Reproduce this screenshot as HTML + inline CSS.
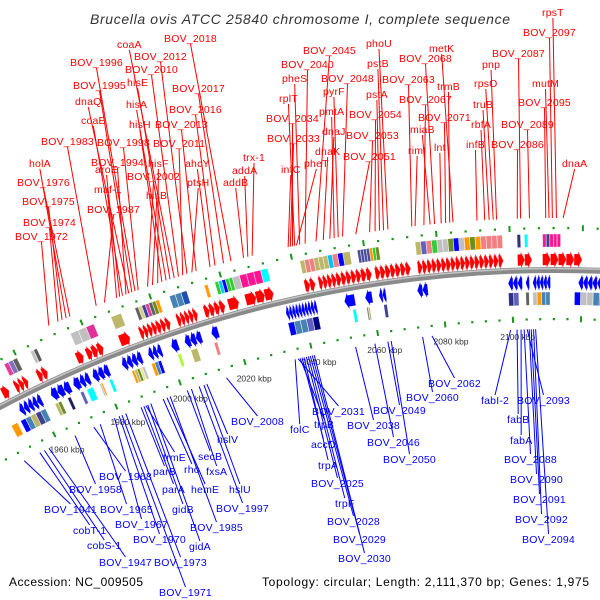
<!DOCTYPE html>
<html><head><meta charset="utf-8"><style>
html,body{margin:0;padding:0;background:#fff;}
svg{display:block;font-family:"Liberation Sans",sans-serif;}
</style></head><body>
<svg id="chart" width="600" height="600" viewBox="0 0 600 600" xmlns="http://www.w3.org/2000/svg">
<rect width="600" height="600" fill="#fff"/>
<text x="300" y="24" text-anchor="middle" font-size="14" font-style="italic" fill="#333" textLength="420" lengthAdjust="spacing">Brucella ovis ATCC 25840 chromosome I, complete sequence</text>
<text x="9" y="586" font-size="12" fill="#000" textLength="134" lengthAdjust="spacing">Accession: NC_009505</text>
<text x="262" y="586" font-size="12" fill="#000" textLength="327" lengthAdjust="spacing">Topology: circular; Length: 2,111,370 bp; Genes: 1,975</text>
<g id="gBack"></g><g id="gTicks"></g><g id="gFeat"></g><g id="gLines"></g><g id="gLabels"></g>
</svg>
<script>
// tick positions (kbp)
const tickLabels=[1960,1980,2000,2020,2040,2060,2080,2100];
// forward gene clusters: start kbp, end kbp, gene count
const fwdClusters=[[1952,1954,1],[1956,1960,3],[1963,1966,2],[1975,1977,1],[1978,1983,3],[1988,1991,1],[1994,1999,4],[1999,2003,3],[2005,2011,5],[2013,2019,4],[2020,2023,1],[2025,2028,1],[2028,2033,2],[2042,2045,2],[2046,2051,4],[2051,2058,5],[2058,2061,2],[2062,2072,7],[2074,2098,18],[2102,2106,2],[2109,2120,5]];
// reverse gene clusters
const revClusters=[[1954,1961,5],[1964,1970,3],[1971,1973,1],[1973,1976,2],[1977,1982,3],[1986,1992,4],[1994,1998,3],[2001,2003,1],[2005,2010,3],[2013,2015,1],[2035,2044,10],[2052,2055,1],[2058,2060,1],[2062,2064,2],[2073,2076,2],[2099,2103,3],[2104,2105,1],[2106,2111,5],[2119,2127,6]];
// COG boxes forward: start, end, colours
const fwdBoxes=[[1956,1960,['#e0409a','#8070c0','#606060']],[1964,1966,['#c0c0c0','#555555']],[1976,1983,['#c0c0c0','#c0c0c0','#e0309a']],[1988,1991,['#bdb76b']],[1995,1999,['#606060','#d8d080','#4040a0','#e0409a']],[1999,2002,['#606060','#6b8e23','#ff9900']],[2005,2010,['#4682b4','#4682b4','#1f4fb0']],[2015,2016,['#ff9900']],[2018,2023,['#33cc33','#00ccff','#0000ff','#33cc33','#33cc33']],[2023,2025,['#c0c0c0']],[2025,2033,['#ff1493','#ff1493','#ff1493','#00ffff']],[2042,2051,['#bdb76b','#f08080','#f08080','#bdb76b','#bdb76b','#bdb76b','#00bfff']],[2051,2054,['#f08080','#0000ff']],[2054,2056,['#bdb76b']],[2058,2063,['#4b4b9b','#4b4b9b','#4b4b9b','#4b4b9b','#ff9900','#33cc33']],[2063,2064,['#6b8e23']],[2074,2098,['#bdb76b','#6060c0','#f08080','#33cc33','#c0c0c0','#c0c0c0','#6b8e23','#0000ff','#c0c0c0','#ff9900','#6b8e23','#ff9900','#f08080','#f08080','#f08080','#f08080']],[2102,2103,['#303080']],[2104,2105,['#00ffff']],[2109,2114,['#ff1493','#404090','#ff1493','#ff1493','#ff1493']]];
// COG boxes reverse
const revBoxes=[[1950,1952,['#ff9900']],[1953,1961,['#0000ff','#4682b4','#bdb76b','#404090','#4682b4']],[1964,1966,['#bdb76b','#6b8e23']],[1968,1969,['#202060']],[1972,1973,['#6060c0']],[1974,1976,['#00ffff']],[1978,1979,['#c0c0c0','#ff9900']],[1981,1982,['#00ffff']],[1988,1992,['#ff9900','#bdb76b','#6b8e23','#f0e68c','#c0c0c0']],[1994,1997,['#ff9900','#4682b4','#0000ff']],[2002,2003,['#adff2f']],[2006,2008,['#bdb76b']],[2013,2014,['#f08080']],[2035,2044,['#0000ff','#4682b4','#4682b4','#6060c0','#000080']],[2054,2055,['#00ffff']],[2058,2059,['#808080','#bdb76b']],[2063,2064,['#404090']],[2099,2102,['#303080','#6060c0']],[2104,2105,['#606060']],[2106,2111,['#c0c0c0','#ff9900','#4682b4','#4682b4']],[2118,2127,['#0000ff','#c0c0c0','#c0c0c0','#4682b4','#4682b4']]];
// forward labelled genes: name, kbp
const fwdNames=['coaA','BOV_2018','BOV_2012','BOV_1996','BOV_2010','hisE','BOV_2017','BOV_1995','dnaQ','hisA','BOV_2016','coaE','hisH','BOV_2013','BOV_1983','BOV_1998','BOV_2011','BOV_1994','trx-1','holA','hisF','ahcY','aroE','addA','BOV_2002','BOV_1976','ptsH','addB','maf-1','hisB','BOV_1975','BOV_1987','BOV_1974','BOV_1972','rpsT','BOV_2097','BOV_2087','metK','phoU','BOV_2045','BOV_2068','BOV_2040','pnp','pstB','BOV_2048','pheS','BOV_2063','trmB','pyrF','rpsO','mutM','pstA','rplT','BOV_2067','BOV_2095','truB','pmtA','BOV_2054','BOV_2034','BOV_2071','rbfA','BOV_2089','miaB','dnaJ','BOV_2053','BOV_2033','infB','BOV_2086','lnt','rimI','dnaK','BOV_2051','pheT','infC','dnaA'];
const fwdKbp=[2007.8,2023.8,2011.4,1996.6,2009,2006.6,2021.7,1995.7,1994.8,2005.5,2019.3,1993,2004.3,2014,1985.4,1997.5,2010.2,1994,2029.7,1976.6,2003.1,2017.9,1992.2,2028.5,2000.2,1977.7,2012.8,2027.3,1991.3,2001.6,1975.4,1987.8,1974.2,1971.5,2112.8,2111.7,2103.1,2084.8,2067.1,2047.4,2079.8,2044.4,2096.6,2065.9,2054.7,2042.9,2073.6,2083.9,2053.5,2095.7,2110.8,2064.8,2041.5,2076.9,2109.9,2094.6,2052.4,2063.6,2040.9,2082.8,2093.4,2105.5,2078.6,2051.2,2062.1,2040.3,2091.3,2102.2,2081.6,2074.5,2049.4,2058.3,2042,2039.7,2114.6];
const fwdLabelXY=[[117,48],[164,42],[134,60],[70,66],[125,73],[127,86],[172,92],[73,89],[75,105],[126,108],[169,113],[81,124],[129,128],[155,128],[41,145],[97,146],[153,147],[91,166],[243,161],[29,167],[148,167],[185,167],[95,173],[232,174],[127,180],[17,186],[187,186],[223,186],[94,193],[146,199],[22,205],[87,213],[23,226],[15,240],[542,16],[523,36],[492,57],[429,52],[366,47],[303,54],[399,62],[281,68],[482,68],[367,67],[321,82],[282,82],[382,83],[437,90],[323,95],[474,87],[532,87],[366,98],[279,102],[399,103],[518,106],[473,108],[319,115],[349,118],[266,122],[418,121],[471,128],[501,128],[410,133],[322,135],[346,139],[267,142],[466,148],[491,148],[434,151],[408,154],[315,155],[343,160],[304,167],[281,173],[562,167]];
// reverse labelled genes
const revNames=['BOV_2008','hslV','trmE','secB','parB','rho','fxsA','BOV_1968','BOV_1958','parA','hemE','hslU','BOV_1965','BOV_1941','gidB','BOV_1997','BOV_1967','BOV_1985','cobT-1','BOV_1970','cobS-1','gidA','BOV_1947','BOV_1973','BOV_1971','folC','BOV_2031','trpB','accD','trpA','BOV_2025','trpF','BOV_2028','BOV_2029','BOV_2030','BOV_2038','BOV_2049','BOV_2046','BOV_2050','BOV_2060','BOV_2062','fabI-2','BOV_2093','fabB','fabA','BOV_2088','BOV_2090','BOV_2091','BOV_2092','BOV_2094'];
const revKbp=[2013.5,2007.4,1988.2,2001.3,1986.7,1993.7,2002.6,1971.5,1965.4,1987.6,1994.9,2006.5,1973.6,1948.6,1988.8,2005,1978.2,1995.9,1953.8,1979.7,1955.3,1989.8,1956.8,1981.8,1980.6,2034.6,2035.5,2036.1,2036.7,2037.3,2038,2038.6,2039.2,2039.8,2040.4,2052.9,2062.6,2058.7,2063.6,2073,2075.8,2099.2,2104.1,2101.1,2102.3,2103.2,2104.7,2105.3,2106,2106.6];
const revLabelXY=[[231,425],[217,443],[163,461],[198,460],[153,475],[184,473],[206,475],[99,480],[69,493],[162,493],[191,493],[229,493],[100,513],[44,513],[172,513],[216,512],[115,528],[190,531],[73,534],[133,543],[87,549],[189,550],[99,566],[154,566],[159,596],[290,433],[312,415],[314,428],[311,448],[318,469],[311,487],[335,507],[327,525],[333,543],[338,562],[347,429],[373,414],[367,446],[383,463],[406,401],[428,387],[481,404],[517,404],[507,423],[510,444],[504,463],[510,483],[513,503],[515,523],[522,543]];

const NS='http://www.w3.org/2000/svg';
const CX=557, CY=1472;
function th(k){return -0.0382+(k-2100)*0.00295;}
function P(r,k){const t=th(k);return [CX+r*Math.sin(t), CY-r*Math.cos(t)];}
function mk(tag,attrs,parent){const e=document.createElementNS(NS,tag);for(const a in attrs)e.setAttribute(a,attrs[a]);parent.appendChild(e);return e;}
function arcPath(r,k0,k1){const a=P(r,k0),b=P(r,k1);return `M${a[0]},${a[1]} A${r},${r} 0 0 1 ${b[0]},${b[1]}`;}
function pts(list){return list.map(p=>p[0].toFixed(2)+','+p[1].toFixed(2)).join(' ');}
const gBack=document.getElementById('gBack'),gTicks=document.getElementById('gTicks'),gFeat=document.getElementById('gFeat'),gLines=document.getElementById('gLines'),gLabels=document.getElementById('gLabels');

// backbone
let bb=mk('path',{d:arcPath(1202,1930,2135),stroke:'#8a8a8a','stroke-width':6,fill:'none'},gBack);


let bh=mk('path',{d:arcPath(1203.5,1930,2135),stroke:'#c4c4c4','stroke-width':1.5,fill:'none'},gBack);



// dot rings
[1244,1153].forEach(r=>{
  for(let k=1932;k<=2132;k+=4){
    const major=(k%20===0);
    const t=th(k);
    const c=P(r,k);
    let d;
    if(major){
      const a=P(r-3,k),b=P(r+3,k);
      d=mk('line',{x1:a[0],y1:a[1],x2:b[0],y2:b[1],stroke:'#1a961a','stroke-width':2},gTicks);
      
    }else{
      d=mk('rect',{x:c[0]-1,y:c[1]-1,width:2.2,height:2.2,fill:'#1a961a'},gTicks);
      
    }
    
  }
});
tickLabels.forEach(k=>{
  const p=P(1133,k);
  const t=mk('text',{x:p[0]+4,y:p[1],'text-anchor':'middle','font-size':8.5,fill:'#333'},gTicks);
  t.textContent=k+' kbp';
  
  
});

// arrows
function arrow(s,e,rIn,rOut,fwd,color){
  const len=e-s, h=Math.min(len*0.8,1.0);
  const rm=(rIn+rOut)/2;
  let p;
  if(fwd){
    const b=e-h;
    p=[P(rIn,s),P(rOut,s),P(rOut,b),P(rOut+2,b),P(rm,e),P(rIn-2,b),P(rIn,b)];
  }else{
    const b=s+h;
    p=[P(rIn,e),P(rOut,e),P(rOut,b),P(rOut+2,b),P(rm,s),P(rIn-2,b),P(rIn,b)];
  }
  const el=mk('polygon',{points:pts(p),fill:color,stroke:color,'stroke-width':0.3},gFeat);
  
  
}
fwdClusters.forEach(c=>{const w=(c[1]-c[0])/c[2];for(let i=0;i<c[2];i++)arrow(c[0]+i*w,c[0]+(i+1)*w-0.1,1207,1218,true,'#ff0000');});
revClusters.forEach(c=>{const w=(c[1]-c[0])/c[2];for(let i=0;i<c[2];i++)arrow(c[0]+i*w+0.1,c[0]+(i+1)*w,1184,1195,false,'#0000ff');});

function boxes(list,rIn,rOut,nm){
  list.forEach(c=>{const n=c[2].length,w=(c[1]-c[0])/n;
    c[2].forEach((col,i)=>{
      const s=c[0]+i*w,e=s+w-0.08;
      const p=[P(rIn,s),P(rOut,s),P(rOut,e),P(rIn,e)];
      const el=mk('polygon',{points:pts(p),fill:col,stroke:'#ffffff','stroke-width':0.3},gFeat);
      
      
    });
  });
}
boxes(fwdBoxes,1225,1238,'forward-cog-box');
boxes(revBoxes,1167,1180,'reverse-cog-box');

// labels
function labels(names,kbps,xy,color,fwd){
  names.forEach((n,i)=>{
    const t=mk('text',{x:xy[i][0],y:xy[i][1],'font-size':10.5,fill:color,'letter-spacing':0.2},gLabels);
    t.textContent=n;
    
    
    let w=n.length*6;
    try{w=t.getComputedTextLength();}catch(e){}
    const sx=xy[i][0]+w/2, sy=fwd?xy[i][1]+2:xy[i][1]-9;
    const e=P(fwd?1254:1143,kbps[i]);
    const l=mk('line',{x1:sx,y1:sy,x2:e[0],y2:e[1],stroke:color,'stroke-width':1},gLines);
    
    
  });
}
labels(fwdNames,fwdKbp,fwdLabelXY,'#ff0000',true);
labels(revNames,revKbp,revLabelXY,'#0000ff',false);
</script>
</body></html>
